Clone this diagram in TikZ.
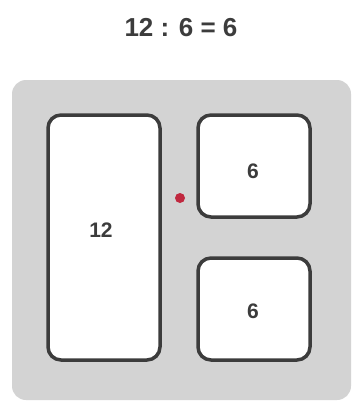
\documentclass[tikz,border=0pt]{standalone}
\usepackage{fontspec}
\setmainfont{Liberation Sans}
\usetikzlibrary{positioning}
\definecolor{panelgray}{HTML}{D3D3D3}
\definecolor{edgegray}{HTML}{3C3C3C}
\definecolor{dotred}{HTML}{C0283F}
\tikzset{
    every picture/.append style={thick},
    cell/.style={draw=edgegray, line width=3.5pt, fill=white, rounded corners=13pt,
        minimum width=112pt, inner sep=0pt},
    celltext/.style={font=\fontsize{21}{24}\selectfont\bfseries, text=edgegray, inner sep=0pt},
    splitdot/.style={circle, fill=dotred, inner sep=0pt, minimum size=10pt}
}

\begin{document}
\begin{tikzpicture}[x=1pt, y=-1pt]
    \useasboundingbox (0,0) rectangle (356,402);

    % ---------------------------------------------------
    % Ratio title
    % ---------------------------------------------------
    \node[font=\fontsize{26}{30}\selectfont\bfseries, text=edgegray, inner sep=0pt] (ratio) at (181,28) {12 : 6 = 6};

    % ---------------------------------------------------
    % Panel and cells
    % ---------------------------------------------------
    \fill[panelgray, rounded corners=14pt] (12,80) rectangle (351,400);

    \node[cell, minimum height=245pt] (big) at (104,237.5) {};
    \node[cell, minimum height=102pt] (topsmall) at (254,166) {};
    \node[cell, minimum height=102pt] (botsmall) at (254,309) {};

    \node[celltext] (bigtext) at (101,230) {12};
    \node[celltext] (toptext) at (253,171) {6};
    \node[celltext] (bottext) at (253,311) {6};

    % Split point
    \node[splitdot] (split) at (180,198) {};

\end{tikzpicture}
\end{document}
